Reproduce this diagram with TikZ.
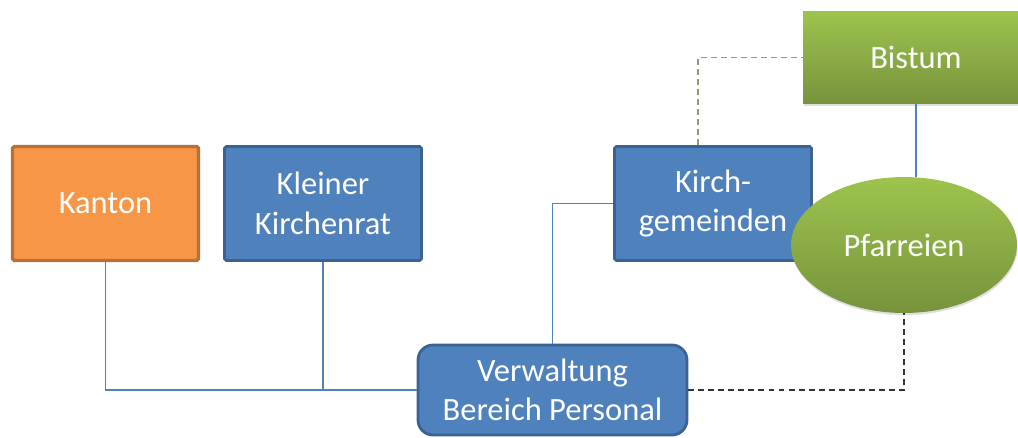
\documentclass[tikz,border=0pt]{standalone}
\usepackage{fontspec}
\setmainfont{Carlito}
\usetikzlibrary{shapes.geometric, shadows}

\definecolor{boxblue}{HTML}{4F81BD}
\definecolor{blueedge}{HTML}{3A6393}
\definecolor{boxorange}{HTML}{F79646}
\definecolor{orangeedge}{HTML}{B6703A}
\definecolor{greentop}{HTML}{9DC44D}
\definecolor{greenbot}{HTML}{76933C}
\definecolor{dashgreen}{HTML}{8F9A7A}

\begin{document}
\begin{tikzpicture}[x=0.02cm, y=-0.02cm,
  every node/.style={text=white, font=\fontsize{18.5}{22.5}\selectfont, align=center, inner sep=0pt},
  bluebox/.style={draw=blueedge, fill=boxblue, line width=1.6pt, rounded corners=1pt},
  greenshape/.style={top color=greentop, bottom color=greenbot, drop shadow={opacity=0.25, shadow xshift=0.3pt, shadow yshift=-1.2pt}},
  link/.style={draw=boxblue, line width=0.8pt},
  dashlink/.style={line width=0.8pt, dash pattern=on 3.4pt off 2.3pt}]
\useasboundingbox (0,0) rectangle (1018,437);
\clip (0,0) rectangle (1018,437);

\node (kanton) [draw=orangeedge, fill=boxorange, line width=1.9pt, rounded corners=1pt, minimum width=3.72cm, minimum height=2.28cm] at (105.5,203.5) {Kanton};
\node (rat) [bluebox, minimum width=3.94cm, minimum height=2.28cm] at (323,203.5) {Kleiner\\Kirchenrat};
\node (kirch) [bluebox, minimum width=3.94cm, minimum height=2.28cm] at (713,203.5) {Kirch-\\gemeinden};
\node (verw) [bluebox, rounded corners=0.3cm, minimum width=5.38cm, minimum height=1.80cm] at (552.5,390) {Verwaltung\\Bereich Personal};
\node (bistum) [greenshape, minimum width=4.52cm, minimum height=1.86cm] at (916,57.5) {Bistum};
\node (pfarr) [greenshape, ellipse, minimum width=4.52cm, minimum height=2.72cm] at (904,245) {Pfarreien};

\draw [link] (kanton.south) |- (verw.west);
\draw [link] (rat.south) -- (rat.south |- verw.west);
\draw [link] (verw.north) |- (kirch.west);
\draw [link] (bistum.south) -- (pfarr.north -| bistum.south);

\draw [dashlink, draw=dashgreen] ([xshift=-0.3cm]kirch.north) |- (bistum.west);
\draw [dashlink, draw=black!80] (verw.east) -| (pfarr.south);
\end{tikzpicture}
\end{document}
